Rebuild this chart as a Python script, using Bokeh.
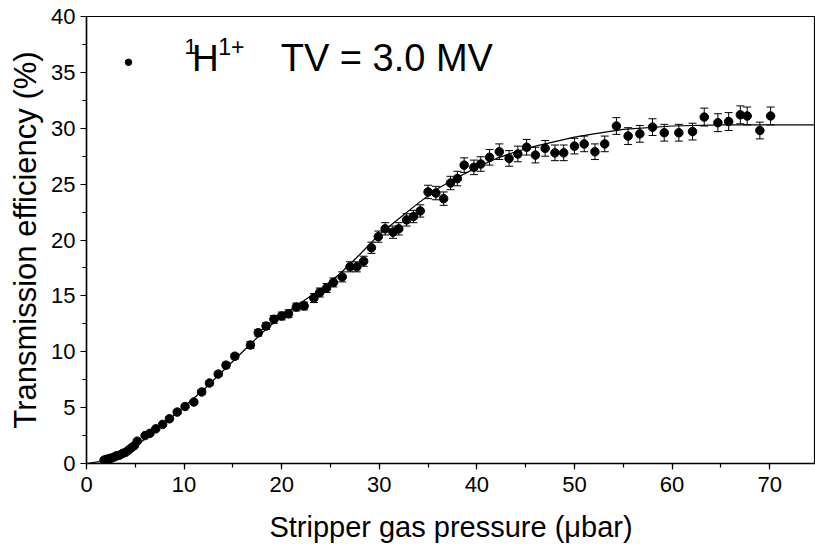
from bokeh.plotting import figure
from bokeh.models import ColumnDataSource, Whisker, TeeHead, Range1d, SingleIntervalTicker, Title
from bokeh.embed import file_html
from bokeh.resources import INLINE

# ---- data ----
pressure = [1.8, 2.0, 2.2, 2.4, 2.6, 2.9, 3.1, 3.4, 3.7, 4.0, 4.3, 4.6, 4.9, 5.2,
            6.0, 6.5, 7.1, 7.8, 8.5, 9.3, 10.1, 11.0, 11.8, 12.6,
            13.5, 14.3, 15.2, 16.8, 17.6, 18.4, 19.2, 20.0, 20.7, 21.5,
            22.3, 23.3, 23.9, 24.6, 25.3, 26.2, 27.0, 27.7, 28.4, 29.2,
            29.9, 30.6, 31.4, 32.0, 32.8, 33.5, 34.2, 35.0, 35.8, 36.6,
            37.3, 38.0, 38.7, 39.7, 40.4, 41.3, 42.3, 43.3, 44.2, 45.1,
            46.0, 47.0, 48.0, 48.9, 50.0, 51.0, 52.1, 53.1, 54.3, 55.5,
            56.7, 58.0, 59.2, 60.7, 62.1, 63.3, 64.7, 65.8, 67.0, 67.7,
            69.0, 70.1]
efficiency = [0.3, 0.35, 0.4, 0.45, 0.5, 0.6, 0.7, 0.75, 0.9, 1.0, 1.2, 1.4, 1.6, 2.0,
              2.5, 2.7, 3.1, 3.5, 4.0, 4.6, 5.1, 5.5, 6.4, 7.2,
              8.0, 8.8, 9.6, 10.6, 11.7, 12.3, 12.9, 13.2, 13.4, 14.0,
              14.1, 14.8, 15.3, 15.7, 16.2, 16.7, 17.6, 17.6, 18.1, 19.3,
              20.3, 21.0, 20.7, 21.0, 21.8, 22.1, 22.6, 24.3, 24.2, 23.7,
              25.1, 25.5, 26.7, 26.5, 26.8, 27.4, 27.9, 27.3, 27.7, 28.3,
              27.6, 28.2, 27.8, 27.8, 28.4, 28.6, 27.9, 28.6, 30.2, 29.3,
              29.5, 30.1, 29.6, 29.6, 29.7, 31.0, 30.5, 30.6, 31.2, 31.1,
              29.8, 31.1]
error = [0.05, 0.05, 0.05, 0.05, 0.05, 0.05, 0.05, 0.05, 0.05, 0.05, 0.05, 0.05, 0.05, 0.05,
         0.1, 0.1, 0.1, 0.1, 0.15, 0.15, 0.15, 0.15, 0.2, 0.2,
         0.2, 0.25, 0.25, 0.3, 0.3, 0.3, 0.35, 0.35, 0.35, 0.35,
         0.35, 0.4, 0.4, 0.4, 0.4, 0.45, 0.45, 0.45, 0.45, 0.5,
         0.5, 0.55, 0.55, 0.55, 0.55, 0.55, 0.55, 0.6, 0.6, 0.6,
         0.6, 0.65, 0.65, 0.65, 0.65, 0.7, 0.7, 0.7, 0.7, 0.7,
         0.7, 0.7, 0.7, 0.7, 0.7, 0.7, 0.7, 0.7, 0.75, 0.75,
         0.75, 0.75, 0.75, 0.75, 0.75, 0.8, 0.8, 0.8, 0.8, 0.8,
         0.75, 0.8]

fit_x = [0, 2, 4, 6, 8, 10, 12, 14, 16, 18, 20, 22, 24, 26, 28, 30, 32, 34, 36, 38,
         40, 42, 44, 46, 48, 50, 52, 55, 60, 65, 70, 75]
fit_y = [0.0, 0.25, 0.9, 2.2, 3.6, 5.1, 6.6, 8.3, 10.0, 11.7, 13.2, 14.4, 15.6, 17.0,
         18.7, 20.5, 21.9, 23.3, 24.6, 25.6, 26.5, 27.3, 27.9, 28.4, 28.8, 29.2, 29.5,
         29.9, 30.2, 30.3, 30.3, 30.3]

x_title = "Stripper gas pressure (\u03bcbar)"
y_title = "Transmission efficiency (%)"
legend_sup1 = "1"
legend_main = "H"
legend_sup2 = "1+"
legend_rest = "TV = 3.0 MV"

FONT = "Liberation Sans"

src = ColumnDataSource(dict(x=pressure, y=efficiency,
                            lo=[a - b for a, b in zip(efficiency, error)],
                            hi=[a + b for a, b in zip(efficiency, error)]))

p = figure(width=815, height=551, output_backend="svg", toolbar_location=None,
           x_range=Range1d(0, 74.7), y_range=Range1d(0, 40),
           min_border_left=86, min_border_right=0, min_border_top=16, min_border_bottom=88)

p.background_fill_color = "white"
p.border_fill_color = "white"
p.outline_line_color = "black"
p.outline_line_width = 1.2
p.xgrid.visible = False
p.ygrid.visible = False

# fit line
p.line(fit_x, fit_y, line_color="black", line_width=1.2)

# error bars
w = Whisker(source=src, base="x", lower="lo", upper="hi", line_color="black", line_width=1,
            upper_head=TeeHead(size=8, line_color="black", line_width=1),
            lower_head=TeeHead(size=8, line_color="black", line_width=1))
p.add_layout(w)

p.scatter("x", "y", source=src, size=8.5, fill_color="black", line_color="black")

# legend-like label
p.scatter([4.3], [35.9], size=6.5, fill_color="black", line_color="black")
p.text([10.05], [37.3], text=[legend_sup1], text_font_size="22px", text_font={"value": FONT},
       text_baseline="alphabetic", text_align="left", text_color="black")
p.text([10.8], [36.2], text=[legend_main], text_font_size="37px", text_font={"value": FONT},
       text_baseline="alphabetic", text_align="left", text_color="black")
p.text([13.5], [37.3], text=[legend_sup2], text_font_size="23px", text_font={"value": FONT},
       text_baseline="alphabetic", text_align="left", text_color="black")
p.text([19.9], [36.25], text=[legend_rest], text_font_size="38px", text_font={"value": FONT},
       text_baseline="alphabetic", text_align="left", text_color="black")

for ax in (p.xaxis[0], p.yaxis[0]):
    ax.axis_line_color = "black"
    ax.axis_line_width = 1.5
    ax.major_tick_line_color = "black"
    ax.minor_tick_line_color = "black"
    ax.major_tick_line_width = 1.2
    ax.minor_tick_line_width = 1.2
    ax.major_tick_in = 0
    ax.major_tick_out = 6
    ax.minor_tick_in = 0
    ax.minor_tick_out = 4
    ax.major_label_text_font = FONT
    ax.major_label_text_font_size = "22px"
    ax.major_label_text_color = "black"
    ax.axis_label_text_font = FONT
    ax.axis_label_text_font_style = "normal"
    ax.axis_label_text_color = "black"

p.xaxis.axis_label_text_font_size = "29px"
p.xaxis.ticker = SingleIntervalTicker(interval=10, num_minor_ticks=2)
p.yaxis.ticker = SingleIntervalTicker(interval=5, num_minor_ticks=2)
p.xaxis.axis_label = x_title
p.xaxis.major_label_standoff = 7
p.yaxis.major_label_standoff = 5
p.xaxis.axis_label_standoff = 16

# y title as a side title, shifted a little below the frame centre as in the reference
ytitle = Title(text=y_title, align="center", offset=17, standoff=11,
               text_font=FONT, text_font_size="31px", text_font_style="normal",
               text_color="black")
p.add_layout(ytitle, "left")

open("out.html", "w").write(file_html(p, INLINE))
